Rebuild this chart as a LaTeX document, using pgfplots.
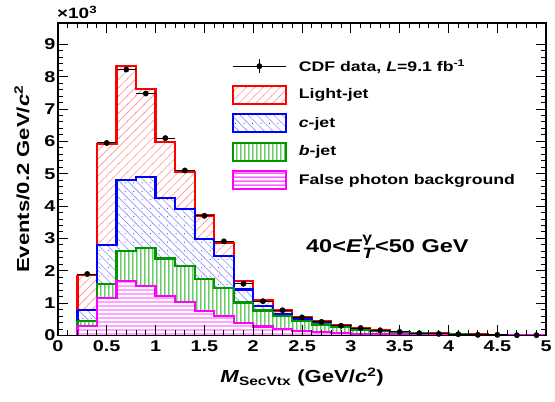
\documentclass[border=0pt]{standalone}
\usepackage{fontspec}
\setmainfont{Liberation Sans}[FakeStretch=1.27]
\usepackage{pgfplots}
\pgfplotsset{compat=1.18}
\usetikzlibrary{patterns}

\definecolor{rootred}{RGB}{255,0,0}
\definecolor{rootblue}{RGB}{0,0,255}
\definecolor{rootgreen}{RGB}{0,150,0}
\definecolor{hatchgreen}{RGB}{20,175,20}
\definecolor{rootmag}{RGB}{255,0,255}
\definecolor{lightred}{RGB}{255,150,150}
\definecolor{lightblue}{RGB}{150,150,255}

% ROOT-like fill styles, with their colour built in
\pgfdeclarepatterninherentlycolored{redhatch}{\pgfqpoint{-1bp}{-1bp}}{\pgfqpoint{9.5bp}{9.5bp}}{\pgfqpoint{8.5bp}{8.5bp}}{%
  \pgfsetcolor{lightred}\pgfsetlinewidth{0.6bp}%
  \pgfpathmoveto{\pgfqpoint{-0.5bp}{-0.5bp}}\pgfpathlineto{\pgfqpoint{9bp}{9bp}}\pgfusepath{stroke}}
\pgfdeclarepatterninherentlycolored{bluehatch}{\pgfqpoint{-1bp}{-1bp}}{\pgfqpoint{9.5bp}{9.5bp}}{\pgfqpoint{8.5bp}{8.5bp}}{%
  \pgfsetcolor{lightblue}\pgfsetlinewidth{0.6bp}%
  \pgfpathmoveto{\pgfqpoint{-0.5bp}{9bp}}\pgfpathlineto{\pgfqpoint{9bp}{-0.5bp}}\pgfusepath{stroke}%
  \pgfsetcolor{rootblue}%
  \pgfpathcircle{\pgfqpoint{6.4bp}{6.4bp}}{0.5bp}\pgfusepath{fill}}
\pgfdeclarepatterninherentlycolored{greenvert}{\pgfqpoint{0bp}{0bp}}{\pgfqpoint{4bp}{4bp}}{\pgfqpoint{4bp}{4bp}}{%
  \pgfsetcolor{hatchgreen}%
  \pgfpathrectangle{\pgfqpoint{1.5bp}{0bp}}{\pgfqpoint{1bp}{4bp}}\pgfusepath{fill}}
\pgfdeclarepatterninherentlycolored{maghoriz}{\pgfqpoint{0bp}{0bp}}{\pgfqpoint{4.4bp}{4.4bp}}{\pgfqpoint{4.4bp}{4.4bp}}{%
  \pgfsetcolor{rootmag}%
  \pgfpathrectangle{\pgfqpoint{0bp}{1.7bp}}{\pgfqpoint{4.4bp}{1bp}}\pgfusepath{fill}}

\tikzset{
  lightfill/.style={preaction={fill=white}, pattern=redhatch},
  cfill/.style={preaction={fill=white}, pattern=bluehatch},
  bfill/.style={preaction={fill=white}, pattern=greenvert},
  ffill/.style={preaction={fill=white}, pattern=maghoriz},
}

\pgfplotstableread{
x     light  cjet   bjet   fake
0.2   1.88   0.78   0.44   0.30
0.4   5.93   2.79   1.60   1.16
0.6   8.34   4.80   2.60   1.68
0.8   7.61   4.90   2.71   1.52
1.0   5.98   4.25   2.38   1.23
1.2   5.06   3.92   2.14   1.03
1.4   3.71   2.98   1.74   0.75
1.6   2.86   2.45   1.46   0.60
1.8   1.68   1.42   1.02   0.38
2.0   1.08   0.90   0.77   0.28
2.2   0.77   0.67   0.60   0.19
2.4   0.58   0.50   0.46   0.14
2.6   0.44   0.38   0.34   0.10
2.8   0.32   0.28   0.25   0.07
3.0   0.23   0.20   0.18   0.05
3.2   0.17   0.14   0.13   0.04
3.4   0.12   0.10   0.09   0.03
3.6   0.08   0.07   0.06   0.02
3.8   0.06   0.05   0.04   0.01
4.0   0.04   0.03   0.03   0.01
4.2   0.03   0.02   0.02   0.01
4.4   0.02   0.02   0.01   0.01
4.6   0.02   0.01   0.01   0.005
4.8   0.01   0.01   0.01   0.005
5.0   0.01   0.01   0.01   0.005
}\histtab

\begin{document}
\begin{tikzpicture}
\begin{axis}[
  name=ax,
  scale only axis,
  width=489bp, height=313bp,
  xmin=0, xmax=5, ymin=0, ymax=9.66,
  xtick={0,0.5,...,5}, ytick={0,1,...,9},
  xticklabels={0,0.5,1,1.5,2,2.5,3,3.5,4,4.5,5},
  yticklabels={0,1,2,3,4,5,6,7,8,9},
  minor x tick num=4, minor y tick num=4,
  tick align=inside,
  major tick length=10bp, minor tick length=5bp,
  every tick/.style={black, line width=1bp},
  axis line style={line width=1.5bp},
  tick label style={font=\fontsize{15.7}{18}\selectfont\bfseries},
  yticklabel style={xshift=1bp},
  xticklabel style={yshift=-2bp},
  label style={font=\fontsize{17.5}{21}\selectfont\bfseries},
  xlabel={\textit{M}\textsubscript{SecVtx} (GeV/\textit{c}\textsuperscript{2})},
  ylabel={Events/0.2 GeV/\textit{c}\textsuperscript{2}},
  xlabel style={yshift=-9bp},
  ylabel style={yshift=8bp},
  clip=false,
  axis on top,
]
% fills, drawn from the total down
\addplot[const plot, lightfill, draw=none] table[x=x,y=light]{\histtab} \closedcycle;
\addplot[const plot, rootred, line width=2.2bp] table[x=x,y=light]{\histtab};
\addplot[mark=none, rootred, line width=2.2bp] coordinates {(0.2,0) (0.2,1.88)};

\addplot[const plot, cfill, draw=none] table[x=x,y=cjet]{\histtab} \closedcycle;
\addplot[const plot, rootblue, line width=2.2bp] table[x=x,y=cjet]{\histtab};
\addplot[mark=none, rootblue, line width=2.2bp] coordinates {(0.2,0) (0.2,0.78)};

\addplot[const plot, bfill, draw=none] table[x=x,y=bjet]{\histtab} \closedcycle;
\addplot[const plot, rootgreen, line width=2.2bp] table[x=x,y=bjet]{\histtab};
\addplot[mark=none, rootgreen, line width=2.2bp] coordinates {(0.2,0) (0.2,0.44)};

\addplot[const plot, ffill, draw=none] table[x=x,y=fake]{\histtab} \closedcycle;
\addplot[const plot, rootmag, line width=2.2bp] table[x=x,y=fake]{\histtab};
\addplot[mark=none, rootmag, line width=2.2bp] coordinates {(0.2,0) (0.2,0.30)};

% data
\addplot[only marks, mark=*, mark size=2.7bp, black,
  error bars/.cd, x dir=both, x explicit, y dir=both, y explicit,
  error mark=none, error bar style={line width=1bp, black}]
coordinates {
(0.3,1.90) +- (0.1,0.044) (0.5,5.95) +- (0.1,0.077) (0.7,8.22) +- (0.1,0.091)
(0.9,7.48) +- (0.1,0.086) (1.1,6.10) +- (0.1,0.078) (1.3,5.10) +- (0.1,0.071)
(1.5,3.70) +- (0.1,0.061) (1.7,2.91) +- (0.1,0.054) (1.9,1.60) +- (0.1,0.040)
(2.1,1.06) +- (0.1,0.033) (2.3,0.78) +- (0.1,0.028) (2.5,0.56) +- (0.1,0.024)
(2.7,0.42) +- (0.1,0.020) (2.9,0.30) +- (0.1,0.017) (3.1,0.23) +- (0.1,0.015)
(3.3,0.16) +- (0.1,0.013) (3.5,0.11) +- (0.1,0.010) (3.7,0.07) +- (0.1,0.008)
(3.9,0.05) +- (0.1,0.007) (4.1,0.04) +- (0.1,0.006) (4.3,0.02) +- (0.1,0.004)
(4.5,0.02) +- (0.1,0.004) (4.7,0.01) +- (0.1,0.003) (4.9,0.01) +- (0.1,0.003)
};
\end{axis}

% legend and texts on a second, hidden axis on top
\begin{axis}[
  scale only axis, width=489bp, height=313bp,
  xmin=0, xmax=5, ymin=0, ymax=9.66,
  hide axis, clip=false,
  legend image code/.code={\draw[#1] (0bp,-9bp) rectangle (53bp,9bp);},
  legend cell align=left,
  legend style={draw=none, fill=none, at={(axis cs:1.78,8.77)}, anchor=north west,
    inner sep=0pt, font=\fontsize{14}{17}\selectfont\bfseries,
    nodes={inner sep=0pt, minimum height=28.5bp},
    /tikz/every odd column/.append style={column sep=12bp}},
]
\addlegendimage{legend image code/.code={
  \draw[black,line width=1bp] (0bp,0bp)--(53bp,0bp);
  \draw[black,line width=1bp] (26.5bp,-7bp)--(26.5bp,7bp);
  \fill[black] (26.5bp,0bp) circle (2.7bp);}}
\addlegendentry{CDF data, \textit{L}=9.1 fb\textsuperscript{-1}}
\addlegendimage{lightfill, draw=rootred, line width=2bp}
\addlegendentry{Light-jet}
\addlegendimage{cfill, draw=rootblue, line width=2bp}
\addlegendentry{\textit{c}-jet}
\addlegendimage{bfill, draw=rootgreen, line width=2bp}
\addlegendentry{\textit{b}-jet}
\addlegendimage{ffill, draw=rootmag, line width=2bp}
\addlegendentry{False photon background}

\node[font=\fontsize{18.6}{21}\selectfont\bfseries, anchor=base west, inner sep=0pt]
  at (axis cs:2.54,2.55)
  {40<\textit{E}\rlap{\raisebox{10bp}{\fontsize{14}{14}\selectfont γ}}\raisebox{-6bp}{\fontsize{15}{15}\selectfont\textit{T}}<50 GeV};
\node[anchor=base west, font=\fontsize{15}{18}\selectfont\bfseries, inner sep=0pt]
  at ([xshift=-1bp,yshift=4bp]rel axis cs:0,1) {×10\textsuperscript{3}};
\end{axis}

\path ([xshift=-58bp,yshift=-66bp]ax.south west) rectangle ([xshift=8bp,yshift=23bp]ax.north east);
\end{tikzpicture}
\end{document}
